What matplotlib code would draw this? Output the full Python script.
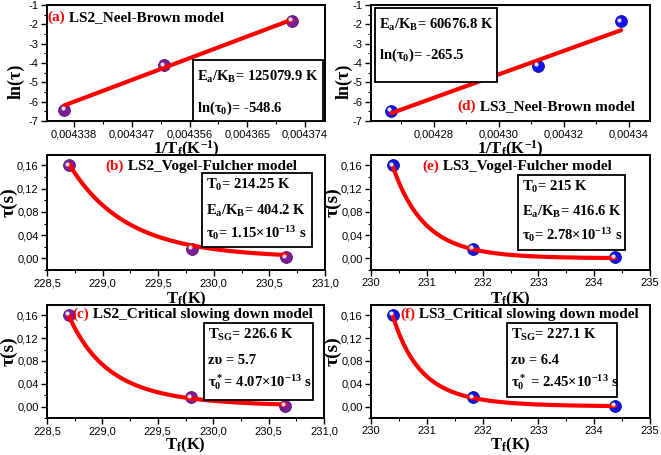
import numpy as np
import matplotlib
matplotlib.use("Agg")
import matplotlib.pyplot as plt
from matplotlib.ticker import MultipleLocator, AutoMinorLocator, FuncFormatter
from matplotlib.transforms import ScaledTranslation

plt.rcParams['mathtext.fontset'] = 'custom'
plt.rcParams['mathtext.rm'] = 'Liberation Serif:bold'
plt.rcParams['mathtext.it'] = 'Liberation Serif:bold'
plt.rcParams['mathtext.bf'] = 'Liberation Serif:bold'
plt.rcParams['font.family'] = ['Liberation Sans', 'DejaVu Sans']

# ---------------- data ----------------
# LS2
ls2_invT = [0.0043365, 0.0043520, 0.0043719]
ls2_lntau = [-6.42, -4.12, -1.82]
ls2_T = [230.65, 229.80, 228.70]
ls2_tau = [0.0016, 0.016, 0.160]
# LS3
ls3_invT = [0.0042669, 0.0043121, 0.0043377]
ls3_lntau = [-6.47, -4.15, -1.85]
ls3_T = [234.37, 231.82, 230.39]
ls3_tau = [0.0016, 0.016, 0.160]

# fit parameters (as printed on the chart)
nb_ls2 = (125079.9, -548.6)        # Ea/KB, ln(tau0)
nb_ls3 = (60676.8, -265.5)
vf_ls2 = (214.25, 404.2, 1.15e-13)  # T0, Ea/KB, tau0
vf_ls3 = (215.0, 416.6, 2.78e-13)
cs_ls2 = (226.6, 5.7, 4.07e-13)     # TSG, z*nu, tau0*
cs_ls3 = (227.15, 6.4, 2.45e-13)

PURPLE = '#7d1e96'
PURPLE_E = '#5a0f70'
BLUE = '#1414e6'
BLUE_E = '#0a0a9a'
RED = '#ff0000'

W, H = 661, 455
fig = plt.figure(figsize=(W / 100, H / 100), dpi=100)


def add_ax(x0, y0, x1, y1):
    a = fig.add_axes([x0 / W, (H - y1) / H, (x1 - x0) / W, (y1 - y0) / H])
    a.patch.set_alpha(0.0)
    return a


def comma_fmt(nd):
    return FuncFormatter(lambda v, p: f"{v:.{nd}f}".replace('.', ','))


def style(ax):
    for s in ax.spines.values():
        s.set_linewidth(1.4)
    ax.tick_params(which='major', direction='out', length=4, width=1.0, labelsize=8, pad=2,
                   top=False, right=False)
    ax.tick_params(which='minor', direction='out', length=2.2, width=0.8, top=False, right=False)
    ax.xaxis.set_minor_locator(AutoMinorLocator(2))
    ax.yaxis.set_minor_locator(AutoMinorLocator(2))


def points(ax, x, y, c, ec):
    ax.plot(x, y, 'o', ms=8.5, mfc=c, mec=ec, mew=0.6, zorder=3, clip_on=False)
    off = ScaledTranslation(-1.3 / 72, 1.3 / 72, fig.dpi_scale_trans)
    ax.plot(x, y, 'o', ms=3.0, mfc='#e0e0e8', mec='none', zorder=5, clip_on=False,
            transform=ax.transData + off)


def title(ax, x, y, lab, rest, size=11):
    t = ax.text(x, y, lab, transform=ax.transAxes, color=RED, fontsize=size,
                family='Liberation Serif', weight='bold', va='center', ha='left')
    ax.annotate(rest, xy=(1, 0), xycoords=t, va='bottom', ha='left', fontsize=size,
                family='Liberation Serif', weight='bold', color='black')


def box(ax, x0, y0, x1, y1, lines, ys, size=10.5):
    bx = ax.get_position()
    def tx(px):
        return (px / W - bx.x0) / bx.width
    def ty(py):
        return ((H - py) / H - bx.y0) / bx.height
    r = plt.Rectangle((tx(x0), ty(y1)), tx(x1) - tx(x0), ty(y0) - ty(y1), transform=ax.transAxes,
                      fill=True, fc='white', ec='black', lw=1.3, zorder=6)
    ax.add_patch(r)
    for s, py in zip(lines, ys):
        ax.text(tx(x0 + 4), ty(py), s, transform=ax.transAxes, fontsize=size,
                family='Liberation Serif', weight='bold', va='center', ha='left', zorder=7)


YLBL = dict(family='Liberation Serif', weight='bold', fontsize=13)
TLBL = dict(family='Liberation Serif', weight='bold', fontsize=14)
XLBL = dict(family='Liberation Serif', weight='bold', fontsize=12)
LNTAU = 'ln(τ)'

# ---------- (a) ----------
ax = add_ax(47, 5, 325, 121)
style(ax)
ax.set_xlim(0.0043338, 0.0043771)
ax.set_ylim(-7, -1)
ax.xaxis.set_major_locator(MultipleLocator(9e-6))
ax.xaxis.set_major_formatter(comma_fmt(6))
ax.yaxis.set_major_locator(MultipleLocator(1))
ax.yaxis.set_major_formatter(comma_fmt(0))
points(ax, ls2_invT, ls2_lntau, PURPLE, PURPLE_E)
xf = np.linspace(min(ls2_invT), max(ls2_invT), 50)
ax.plot(xf, nb_ls2[1] + nb_ls2[0] * xf, color=RED, lw=3, zorder=4, solid_capstyle='round')
ax.set_xlabel('1/T$_\\mathregular{f}$(K$^{-1}$)', **XLBL)
ax.set_ylabel(LNTAU, **YLBL)
ax.xaxis.set_label_coords(0.5, -0.15)
ax.yaxis.set_label_coords(-0.079, 0.345)
title(ax, 0.0, 0.895, '(a)', ' LS2_Neel-Brown model')
box(ax, 193, 60, 323, 121, ['E$_a$/K$_B$= 125079.9 K', 'ln(τ$_0$)= -548.6'], [77, 108])

# ---------- (d) ----------
ax = add_ax(371, 5, 650, 121)
style(ax)
ax.set_xlim(0.0042607, 0.0043466)
ax.set_ylim(-7, -1)
ax.xaxis.set_major_locator(MultipleLocator(2e-5))
ax.xaxis.set_major_formatter(comma_fmt(5))
ax.yaxis.set_major_locator(MultipleLocator(1))
ax.yaxis.set_major_formatter(comma_fmt(0))
points(ax, ls3_invT, ls3_lntau, BLUE, BLUE_E)
xf = np.linspace(min(ls3_invT), max(ls3_invT), 50)
ax.plot(xf, nb_ls3[1] + nb_ls3[0] * xf, color=RED, lw=3, zorder=4, solid_capstyle='round')
ax.set_xlabel('1/T$_\\mathregular{f}$(K$^{-1}$)', **XLBL)
ax.set_ylabel(LNTAU, **YLBL)
ax.xaxis.set_label_coords(0.5, -0.15)
ax.yaxis.set_label_coords(-0.065, 0.345)
title(ax, 0.31, 0.13, '(d)', ' LS3_Neel-Brown model')
box(ax, 375, 8, 497, 82, ['E$_a$/K$_B$= 60676.8 K', 'ln(τ$_0$)= -265.5'], [25, 55])


def vf(T, p):
    T0, Ea, t0 = p
    return t0 * np.exp(Ea / (T - T0))


def cs(T, p):
    Tsg, zn, t0 = p
    return t0 * (T / Tsg - 1) ** (-zn)


def tau_panel(ax, T, tau, c, ec, model, p, left, lab_y):
    style(ax)
    if left:
        ax.set_xlim(228.5, 231.0)
        ax.xaxis.set_major_locator(MultipleLocator(0.5))
        ax.xaxis.set_major_formatter(comma_fmt(1))
    else:
        ax.set_xlim(230, 235)
        ax.xaxis.set_major_locator(MultipleLocator(1))
        ax.xaxis.set_major_formatter(comma_fmt(0))
    ax.set_ylim(-0.02, 0.178)
    ax.yaxis.set_major_locator(MultipleLocator(0.04))
    ax.yaxis.set_major_formatter(comma_fmt(2))
    points(ax, T, tau, c, ec)
    Tf = np.linspace(min(T), max(T), 200)
    ax.plot(Tf, model(Tf, p), color=RED, lw=3, zorder=4, solid_capstyle='round')
    ax.set_xlabel('T$_\\mathregular{f}$(K)', **XLBL)
    ax.set_ylabel('τ(s)', **TLBL)
    ax.xaxis.set_label_coords(0.5, lab_y)
    ax.yaxis.set_label_coords(-0.106 if left else -0.104, 0.59)


# ---------- (b) ----------
ax = add_ax(47, 155, 325, 270)
tau_panel(ax, ls2_T, ls2_tau, PURPLE, PURPLE_E, vf, vf_ls2, True, -0.17)
title(ax, 0.21, 0.9, '(b)', ' LS2_Vogel-Fulcher model')
box(ax, 202, 173, 312, 247, ['T$_0$= 214.25 K', 'E$_a$/K$_B$= 404.2 K',
                             'τ$_0$= 1.15×10$^{-13}$ s'], [185, 211, 233])

# ---------- (e) ----------
ax = add_ax(371, 155, 650, 270)
tau_panel(ax, ls3_T, ls3_tau, BLUE, BLUE_E, vf, vf_ls3, False, -0.17)
title(ax, 0.185, 0.9, '(e)', ' LS3_Vogel-Fulcher model')
box(ax, 518, 175, 625, 250, ['T$_0$= 215 K', 'E$_a$/K$_B$= 416.6 K',
                             'τ$_0$= 2.78×10$^{-13}$ s'], [187, 212, 235])

# ---------- (c) ----------
ax = add_ax(47, 305, 324, 418)
tau_panel(ax, ls2_T, ls2_tau, PURPLE, PURPLE_E, cs, cs_ls2, True, -0.16)
title(ax, 0.09, 0.92, '(c)', ' LS2_Critical slowing down model')
box(ax, 204, 323, 313, 400, ['T$_{SG}$= 226.6 K', 'zυ = 5.7',
                             'τ$_0^*$= 4.07×10$^{-13}$ s'], [335, 360, 382])

# ---------- (f) ----------
ax = add_ax(371, 305, 650, 418)
tau_panel(ax, ls3_T, ls3_tau, BLUE, BLUE_E, cs, cs_ls3, False, -0.16)
title(ax, 0.105, 0.92, '(f)', ' LS3_Critical slowing down model')
box(ax, 507, 323, 617, 397, ['T$_{SG}$= 227.1 K', 'zυ = 6.4',
                             'τ$_0^*$ = 2.45×10$^{-13}$ s'], [335, 360, 382])

fig.savefig('out.png', dpi=100)
